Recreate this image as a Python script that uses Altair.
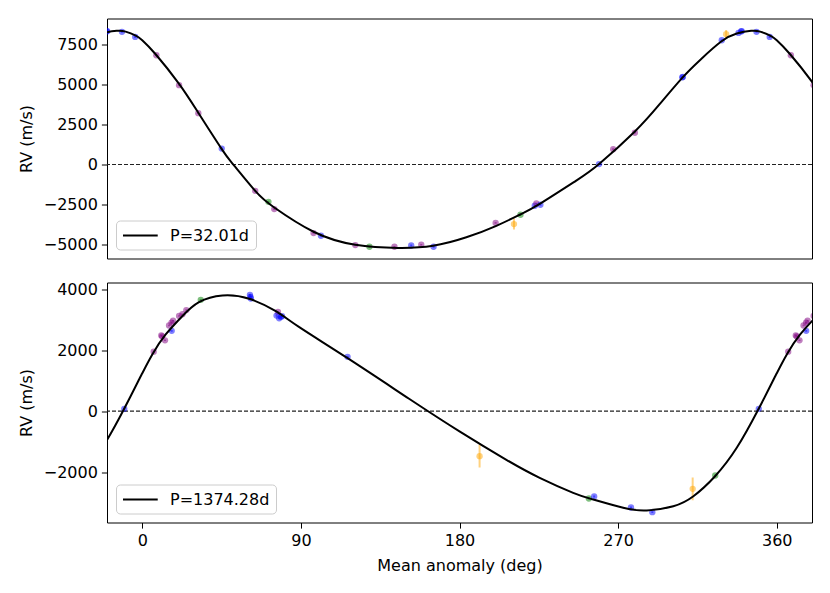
import altair as alt
import pandas as pd

FONT = "DejaVu Sans"

# ---------------- Panel 1: P = 32.01 d (phase-folded, degrees in [0, 360)) ----------------
p1_phase = [348.5, 356.0, 8.0, 20.9, 31.8, 45.1, 64.1, 71.6, 74.9, 97.2, 101.4, 120.9, 128.9,
            143.1, 152.6, 158.3, 165.3, 200.5, 210.9, 214.6, 222.7, 223.6, 225.9, 259.2,
            267.2, 279.5, 306.4, 306.7, 328.8, 331.3, 338.3, 339.8, 340.1]
p1_rv = [8260, 7941, 6803, 4938, 3196, 995, -1636, -2320, -2774, -4266, -4434, -5012, -5118,
         -5118, -5040, -4994, -5118, -3635, -3706, -3128, -2568, -2425, -2506, 25,
         958, 1980, 5430, 5450, 7736, 8109, 8190, 8290, 8300]
p1_err = [60, 60, 50, 50, 50, 60, 50, 60, 50, 50, 60, 50, 60,
          50, 60, 50, 60, 50, 340, 60, 60, 50, 60, 60,
          50, 50, 60, 60, 60, 260, 60, 60, 60]
p1_inst = ["blue", "blue", "purple", "purple", "purple", "blue", "purple", "green", "purple",
           "purple", "blue", "purple", "green", "purple", "blue", "purple", "blue", "purple",
           "orange", "green", "blue", "purple", "blue", "blue", "purple", "purple", "blue",
           "blue", "blue", "orange", "blue", "blue", "blue"]

p1_curve_phase = [0, 7.6, 20.9, 31.8, 45.1, 51.7, 64.1, 74.9, 97.2, 120.9, 145.0, 165.0,
                  183.9, 200.9, 214.5, 225.5, 246.0, 259.2, 279.5, 293.7, 306.5, 317.0,
                  328.5, 337.3, 345.5, 350.6, 356.3]
p1_curve_rv = [7740, 6866, 5020, 3220, 960, 0, -1636, -2674, -4185, -4994, -5190, -5060,
               -4531, -3817, -3110, -2450, -1015, 35, 2055, 3773, 5411, 6560,
               7655, 8155, 8320, 8271, 8030]
p1_label = "P=32.01d"

# ---------------- Panel 2: P = 1374.28 d ----------------
p2_phase = [349.8, 6.5, 10.8, 11.3, 12.9, 15.2, 16.7, 16.6, 17.5, 20.9, 22.8, 25.0, 33.2,
            61.1, 61.4, 61.6, 77.0, 76.2, 77.7, 78.7, 79.3, 116.5, 191.4, 253.4, 256.4,
            277.3, 289.4, 312.3, 325.1]
p2_rv = [79, 1950, 2480, 2450, 2320, 2805, 2630, 2900, 2960, 3120, 3175, 3310, 3645,
         3810, 3740, 3690, 3250, 3130, 3040, 3090, 3110, 1781, -1473, -2858, -2792,
         -3152, -3306, -2540, -2105]
p2_err = [30, 25, 25, 25, 25, 25, 30, 25, 25, 25, 25, 25, 30,
          30, 30, 30, 25, 30, 30, 30, 30, 30, 371, 30, 30,
          30, 30, 371, 30]
p2_inst = ["blue", "purple", "purple", "purple", "purple", "purple", "blue", "purple", "purple",
           "purple", "purple", "purple", "green", "blue", "blue", "blue", "purple", "blue",
           "blue", "blue", "blue", "blue", "orange", "green", "blue", "blue", "blue",
           "orange", "green"]

p2_curve_phase = [0, 5.7, 13.3, 22.7, 32.2, 45.5, 60.7, 75.8, 89.1, 116.5, 151.6, 180.0,
                  206.6, 225.5, 244.5, 255.8, 272.9, 286.2, 301.3, 312.7, 325.0, 337.3,
                  349.3, 358.2]
p2_curve_rv = [1240, 1856, 2511, 3110, 3568, 3787, 3679, 3273, 2750, 1735, 400, -660,
               -1590, -2180, -2671, -2890, -3162, -3250, -3110, -2782, -2128, -1198,
               30, 1038]
p2_label = "P=1374.28d"

inst_domain = ["blue", "purple", "green", "orange"]
inst_range = ["#0000ff", "#800080", "#008000", "#ffa500"]

XMIN, XMAX = -20, 380


def wrap_rows(columns, margin):
    """Repeat phase-folded rows one cycle left/right, as the folded plot shows."""
    rows = []
    for vals in zip(*columns):
        for shift in (-360, 0, 360):
            x = vals[0] + shift
            if XMIN - margin <= x <= XMAX + margin:
                rows.append((x,) + tuple(vals[1:]))
    return rows


def panel(phase, rv, err, inst, cphase, crv, label, ydom, yvals, bottom, legend_y):
    pts = pd.DataFrame(wrap_rows([phase, rv, err, inst], 6), columns=["x", "rv", "err", "inst"])
    cur = pd.DataFrame(wrap_rows([cphase, crv], 60), columns=["x", "rv"]).sort_values("x")
    cur["label"] = label

    xscale = alt.Scale(domain=[XMIN, XMAX], nice=False, zero=False)
    yscale = alt.Scale(domain=ydom, nice=False, zero=False)
    if bottom:
        xaxis = alt.Axis(values=[0, 90, 180, 270, 360], title="Mean anomaly (deg)", format="d")
    else:
        xaxis = None
    yaxis = alt.Axis(values=yvals, title="RV (m/s)", format="d")

    X = alt.X("x:Q", scale=xscale, axis=xaxis)
    Y = alt.Y("rv:Q", scale=yscale, axis=yaxis)
    color = alt.Color("inst:N", scale=alt.Scale(domain=inst_domain, range=inst_range), legend=None)

    zero = alt.Chart(pd.DataFrame({"rv": [0]})).mark_rule(
        color="#222222", strokeWidth=1.2, strokeDash=[4, 2]
    ).encode(y=Y)

    errs = alt.Chart(pts).transform_calculate(
        lo="datum.rv - datum.err", hi="datum.rv + datum.err"
    ).mark_rule(strokeWidth=2, opacity=0.5, clip=True).encode(
        x=X, y=alt.Y("lo:Q", scale=yscale, axis=yaxis), y2="hi:Q", color=color
    )

    dots = alt.Chart(pts).mark_circle(size=40, opacity=0.5, clip=True).encode(
        x=X, y=Y, color=color
    )

    line = alt.Chart(cur).mark_line(strokeWidth=2, interpolate="natural", clip=True).encode(
        x=X, y=Y, order="x:Q",
        stroke=alt.Stroke(
            "label:N", scale=alt.Scale(range=["black"]),
            legend=alt.Legend(
                title=None, orient="none", legendX=9, legendY=legend_y,
                symbolType="M-1,0H3.34", symbolSize=256, symbolStrokeWidth=2,
                symbolStrokeColor="black",
                labelFont=FONT, labelFontSize=16, labelColor="black", labelOffset=30,
                padding=6, strokeColor="#cccccc", fillColor="white", cornerRadius=4,
            ),
        ),
    )
    return alt.layer(zero, errs, dots, line).properties(width=705, height=240)


top = panel(p1_phase, p1_rv, p1_err, p1_inst, p1_curve_phase, p1_curve_rv, p1_label,
            [-5850, 9090], [-5000, -2500, 0, 2500, 5000, 7500], False, 202)
bot = panel(p2_phase, p2_rv, p2_err, p2_inst, p2_curve_phase, p2_curve_rv, p2_label,
            [-3643, 4213], [-2000, 0, 2000, 4000], True, 202)

chart = alt.vconcat(top, bot, spacing=21).resolve_scale(
    stroke="independent", x="independent", y="independent"
).resolve_legend(stroke="independent").properties(
    padding={"left": 9, "top": 9.5, "right": 5, "bottom": 5}
).configure(font=FONT).configure_view(
    stroke="black", strokeWidth=1
).configure_axis(
    grid=False, domain=False, tickColor="black", tickSize=5.6, tickWidth=1,
    labelFont=FONT, labelFontSize=16, labelColor="black", labelPadding=4,
    titleFont=FONT, titleFontSize=16, titleFontWeight="normal", titleColor="black",
    labelFlush=False,
).configure_axisY(titlePadding=9).configure_axisX(titlePadding=9)

chart.save("out.html", embed_options={"renderer": "svg", "actions": False})
